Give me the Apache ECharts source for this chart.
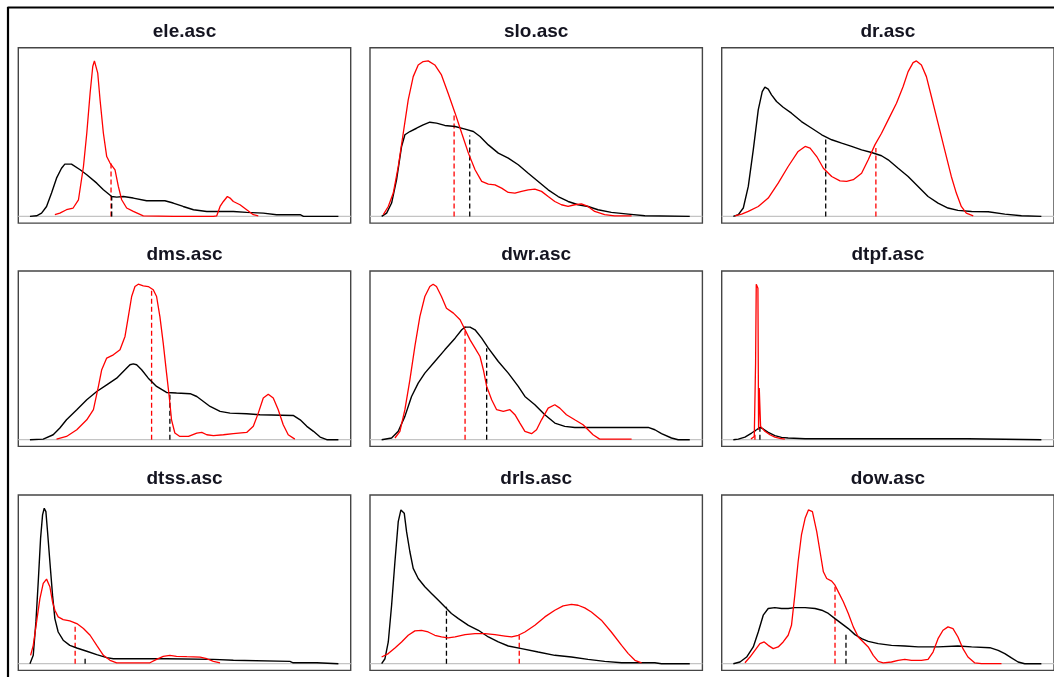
<!DOCTYPE html>
<html>
<head>
<meta charset="utf-8">
<script src="https://cdn.jsdelivr.net/npm/echarts@6/dist/echarts.min.js"></script>
<style>
html,body{margin:0;padding:0;background:#fff;}
#chart{width:1054px;height:677px;}
</style>
</head>
<body>
<div id="chart"></div>
<script>
// ---- panel titles ----
const panelTitles = ['ele.asc','slo.asc','dr.asc','dms.asc','dwr.asc','dtpf.asc','dtss.asc','drls.asc','dow.asc'];

// ---- density curves [x, density] (x in 0..100 plot units, density scaled so max = 1) ----
const eleBlack = [[3.5,0],[5.5,.004],[7,.021],[8.5,.064],[10,.15],[11.5,.246],[13,.31],[14,.336],[16,.336],[18.6,.3],[20.6,.268],[23.6,.214],[25.6,.171],[28.1,.128],[29.6,.124],[31.6,.128],[34.6,.118],[38.6,.101],[44.1,.101],[46.6,.086],[49.6,.064],[52.7,.043],[56.7,.032],[64.7,.032],[68.7,.026],[73.7,.021],[77.7,.011],[84.8,.011],[85.8,0],[96.3,0]];
const eleRed = [[11,.011],[12.5,.021],[14.5,.043],[16.5,.054],[18.1,.107],[19.6,.321],[20.6,.535],[21.6,.792],[22.4,.964],[22.9,1],[23.4,.996],[23.9,.921],[24.6,.749],[25.6,.535],[26.6,.385],[27.6,.343],[29.1,.3],[30.1,.193],[31.1,.107],[32.6,.054],[34.6,.032],[37.6,.004],[46.6,0],[58.7,0],[59.7,.004],[60.7,.064],[61.7,.096],[62.9,.128],[63.7,.118],[64.7,.096],[66.7,.075],[68.7,.043],[70.7,.011],[72.2,.004]];

const sloBlack = [[3.5,0],[5,.021],[6.5,.086],[8,.236],[9.5,.45],[10.5,.525],[12,.546],[14,.567],[16,.589],[18,.606],[20,.6],[22.5,.585],[25.6,.578],[28.6,.561],[31.1,.546],[33.1,.514],[35.6,.46],[38.6,.407],[41.6,.375],[44.6,.332],[47.6,.278],[50.6,.225],[53.6,.171],[56.6,.128],[59.6,.096],[62.6,.075],[65.6,.064],[68.6,.043],[72.6,.026],[77.7,.015],[82.7,.004],[96.2,0]];
const sloRed = [[4,.011],[5.5,.064],[7,.15],[8.5,.321],[10,.535],[11.5,.749],[13,.899],[14.5,.974],[16,.996],[17.5,1],[19.5,.974],[21.5,.91],[23.5,.792],[25.6,.664],[27.6,.535],[29.6,.407],[31.6,.3],[33.6,.225],[35.6,.208],[37.6,.203],[39.6,.182],[41.6,.154],[43.6,.15],[45.6,.161],[47.6,.171],[49.6,.176],[51.6,.161],[53.6,.128],[55.6,.096],[57.6,.075],[59.6,.064],[61.6,.075],[63.6,.081],[65.6,.064],[67.6,.032],[70.6,.011],[73.6,.004],[78.7,.004]];

const drBlack = [[3.5,0],[5,.011],[6.5,.054],[8,.193],[9.5,.428],[11,.685],[12.2,.803],[13,.831],[14,.818],[15,.782],[16.5,.739],[18.5,.702],[21,.664],[24,.61],[27.1,.567],[30.1,.525],[33.1,.493],[36.1,.471],[39.1,.45],[42.1,.428],[45.1,.411],[48.1,.39],[50.1,.364],[53.1,.31],[56.1,.257],[59.1,.193],[62.1,.128],[65.1,.086],[68.1,.054],[71.1,.039],[75.2,.032],[80.2,.03],[85.2,.015],[90.2,.004],[96.2,0]];
const drRed = [[4,.004],[6,.015],[8,.032],[11,.064],[14,.118],[17,.214],[20,.321],[23,.418],[25.1,.45],[26.6,.439],[28.6,.385],[30.6,.31],[33.1,.257],[35.6,.229],[37.6,.225],[39.6,.236],[42.1,.278],[44.1,.364],[46.1,.46],[48.1,.535],[50.1,.621],[52.6,.728],[54.6,.835],[56.1,.931],[57.6,.989],[58.6,1],[60.1,.974],[61.6,.899],[63.1,.771],[65.1,.6],[67.1,.428],[69.1,.257],[70.6,.15],[72.1,.064],[73.6,.021],[75.7,.004]];

const dmsBlack = [[3.5,0],[7.5,.004],[10.5,.032],[12.5,.075],[14.5,.128],[17.6,.193],[20.6,.257],[23.6,.31],[26.6,.353],[29.6,.396],[32.1,.45],[33.6,.482],[34.6,.488],[35.6,.482],[37.1,.45],[39.1,.396],[41.6,.343],[44.6,.304],[47.6,.3],[51.7,.296],[53.7,.278],[55.7,.246],[57.7,.214],[60.7,.182],[63.7,.171],[68.7,.167],[72.7,.161],[82.7,.156],[84.8,.128],[86.8,.086],[88.8,.054],[90.8,.017],[92.8,0],[96.3,0]];
const dmsRed = [[11.5,.004],[14.5,.021],[17.6,.064],[20.6,.128],[22.6,.193],[24.1,.343],[25.1,.45],[26.6,.525],[28.6,.546],[30.6,.578],[32.1,.664],[33.1,.792],[34.1,.921],[35.1,.985],[36.1,1],[37.6,.989],[39.1,.985],[40.6,.964],[41.6,.921],[42.6,.792],[43.6,.621],[44.6,.428],[45.4,.278],[46.1,.128],[47.1,.043],[48.6,.021],[51.2,.021],[53.7,.043],[55.2,.047],[56.7,.032],[58.7,.026],[61.7,.032],[64.7,.039],[68.7,.047],[70.7,.086],[72.2,.171],[73.7,.268],[75.2,.293],[76.7,.268],[78.2,.193],[79.7,.096],[81.2,.032],[83.2,.004]];

const dwrBlack = [[3.5,0],[6.5,.011],[8.5,.054],[10.5,.15],[12.5,.278],[14.5,.364],[16.5,.428],[19.5,.503],[22.5,.578],[25.6,.653],[27.6,.707],[28.6,.724],[30.1,.724],[31.6,.707],[33.6,.653],[35.6,.589],[38.6,.503],[41.6,.428],[44.6,.343],[46.6,.278],[49.6,.225],[52.6,.161],[55.6,.107],[58.6,.086],[61.6,.079],[83.7,.079],[85.7,.064],[87.7,.039],[90.7,.011],[92.7,0],[96.2,0]];
const dwrRed = [[7.5,.011],[9,.054],[10.5,.193],[12,.385],[13.5,.6],[15,.792],[16.5,.921],[18,.985],[19,1],[20,.985],[21.5,.921],[23,.846],[25.1,.814],[27.1,.771],[28.6,.707],[30.1,.642],[31.6,.589],[33.1,.535],[34.1,.45],[35.1,.343],[36.6,.257],[38.1,.193],[40.1,.182],[42.1,.193],[43.6,.161],[45.1,.107],[46.6,.054],[48.6,.039],[50.1,.064],[51.6,.128],[53.6,.203],[55.6,.225],[57.1,.203],[59.1,.161],[61.6,.128],[64.1,.096],[65.6,.064],[67.1,.032],[69.1,.004],[78.7,.004]];

const dtpfBlack = [[3.5,0],[5,.004],[7,.017],[9,.043],[10.5,.064],[11.5,.079],[12.5,.069],[14,.047],[16,.026],[18,.015],[20,.011],[25.1,.006],[74.1,.006],[74.6,0],[96.2,0]];
const dtpfRed = [[8.8,.004],[9.8,.021],[10.2,.493],[10.4,1],[10.7,.996],[10.9,.974],[11.1,.064],[11.3,.332],[11.5,.321],[11.7,.086],[12.2,.075],[13,.054],[14.5,.032],[16,.017],[17.5,.009],[19,.004]];

const dtssBlack = [[3.5,0],[4.5,.054],[5.3,.269],[6,.527],[6.7,.806],[7.3,.957],[7.8,1],[8.3,.978],[8.8,.849],[9.5,.656],[10.3,.441],[11,.29],[12,.204],[13.5,.151],[15.5,.118],[17.6,.101],[20.6,.08],[23.6,.058],[26.6,.039],[28.6,.032],[44.6,.032],[58.7,.028],[64.7,.022],[81.7,.015],[82.7,.006],[89.8,.006],[90.3,0],[96.3,0]];
const dtssRed = [[3.7,.054],[4.5,.118],[5.5,.269],[6.5,.419],[7.5,.516],[8.5,.544],[9.5,.495],[10.3,.398],[11,.344],[12,.301],[13.5,.284],[15.5,.275],[17.6,.258],[19.6,.226],[21.6,.183],[23.6,.118],[25.6,.054],[27.6,.022],[29.6,.006],[39.6,.006],[41.6,.028],[43.6,.047],[45.6,.054],[47.6,.047],[50.7,.045],[54.7,.043],[56.7,.032],[58.7,.015],[60.7,.006]];

const drlsBlack = [[3.5,0],[4.5,.032],[5.5,.14],[6.5,.376],[7.5,.656],[8.5,.914],[9.3,.989],[9.8,1],[10.3,.968],[11,.849],[12,.72],[13,.613],[14.5,.548],[16.5,.495],[18.5,.452],[20.5,.409],[22.5,.366],[24.5,.323],[26.6,.29],[29.6,.247],[32.6,.215],[35.6,.172],[38.6,.14],[41.6,.114],[45.6,.097],[50.6,.075],[55.6,.054],[60.6,.043],[65.6,.028],[70.6,.015],[75.7,.006],[85.7,.006],[87.7,0],[96.2,0]];
const drlsRed = [[3.5,.043],[5.5,.065],[7.5,.101],[9.5,.14],[11.5,.183],[13.5,.211],[15.5,.215],[17.5,.204],[19.5,.183],[21.5,.172],[23.5,.166],[25.6,.172],[28.6,.187],[31.6,.194],[34.6,.194],[37.6,.187],[40.6,.178],[42.6,.172],[44.6,.183],[46.6,.204],[49.6,.247],[52.6,.301],[55.6,.344],[58.1,.372],[60.6,.381],[62.6,.376],[64.6,.359],[66.6,.333],[69.6,.28],[72.6,.204],[75.7,.118],[77.7,.065],[79.7,.022],[81.7,.006]];

const dowBlack = [[3.5,0],[5.5,.011],[7.5,.043],[9.5,.108],[11,.204],[12.5,.312],[14,.355],[16,.361],[18,.355],[20,.355],[22,.361],[25.1,.361],[28.1,.355],[30.1,.344],[32.1,.323],[34.1,.29],[36.1,.258],[38.1,.226],[40.1,.187],[42.1,.161],[44.1,.144],[47.1,.129],[51.1,.118],[55.1,.114],[59.1,.108],[65.1,.108],[71.1,.114],[75.2,.108],[80.7,.103],[83.2,.086],[85.2,.065],[87.2,.037],[89.2,.011],[91.2,0],[96.2,0]];
const dowRed = [[7,.006],[8.5,.043],[10,.086],[11.5,.129],[12.8,.14],[14,.118],[15.5,.097],[17,.108],[18.5,.14],[20,.183],[21,.247],[22,.441],[23,.656],[24,.828],[25.1,.935],[26.1,.989],[26.6,1],[27.3,.978],[28.6,.849],[29.6,.72],[30.6,.591],[31.6,.548],[33.1,.531],[34.1,.505],[35.1,.462],[36.6,.398],[38.1,.323],[39.6,.237],[41.1,.172],[42.6,.14],[44.1,.108],[45.6,.054],[47.1,.015],[48.6,.006],[51.1,.011],[53.1,.022],[55.1,.028],[57.1,.022],[60.1,.022],[62.1,.028],[63.6,.075],[65.1,.161],[66.6,.215],[68.1,.237],[69.6,.226],[71.1,.172],[72.6,.097],[74.1,.043],[76.1,.006],[78.2,0],[84.2,0]];

// ---- medians [x, density at median] per panel ----
const medianBlack = [[28.1,.128],[30.0,.52],[31.3,.503],[45.6,.30],[35.1,.589],[11.5,.075],[20.1,.037],[23.0,.366],[37.4,.204]];
const medianRed   = [[27.9,.34],[25.3,.65],[46.4,.44],[40.1,.964],[28.6,.728],[10.0,.06],[17.1,.258],[44.9,.183],[34.1,.505]];

const blackCurves = [eleBlack,sloBlack,drBlack,dmsBlack,dwrBlack,dtpfBlack,dtssBlack,drlsBlack,dowBlack];
const redCurves   = [eleRed,sloRed,drRed,dmsRed,dwrRed,dtpfRed,dtssRed,drlsRed,dowRed];

// ---- layout ----
const colLefts = [18.3, 370, 721.7];
const rowTops = [47.7, 271, 495];
const boxW = 332.4, boxH = 175.4;
const titleTops = [22, 245.5, 469];

const chart = echarts.init(document.getElementById('chart'), null, {renderer:'canvas'});
const grids=[], xAxes=[], yAxes=[], titles=[], series=[];
for (let i=0;i<9;i++){
  const r=Math.floor(i/3), c=i%3;
  grids.push({left:colLefts[c], top:rowTops[r], width:boxW, height:boxH, show:true,
    borderColor:'#454545', borderWidth:1.4, backgroundColor:'transparent', containLabel:false});
  xAxes.push({type:'value', gridIndex:i, min:0, max:100, show:false});
  yAxes.push({type:'value', gridIndex:i, min:-0.043, max:1.085, show:false});
  titles.push({text:panelTitles[i], left:colLefts[c]+boxW/2, top:titleTops[r], textAlign:'center', padding:0,
    textStyle:{fontFamily:'Liberation Sans, Arial, sans-serif', fontWeight:'bold', fontSize:19, color:'#141420'}});
  const common = {type:'line', xAxisIndex:i, yAxisIndex:i, showSymbol:false, symbol:'none', silent:true, animation:false};
  series.push(Object.assign({}, common, {data:[[0,0],[100,0]], lineStyle:{color:'#c4c4c4', width:1.3}, z:1}));
  series.push(Object.assign({}, common, {data:[[medianRed[i][0],0],[medianRed[i][0],medianRed[i][1]]], lineStyle:{color:'#ff0000', width:1.3, type:[5,3]}, z:2}));
  series.push(Object.assign({}, common, {data:[[medianBlack[i][0],0],[medianBlack[i][0],medianBlack[i][1]]], lineStyle:{color:'#000', width:1.3, type:[5,3]}, z:3}));
  series.push(Object.assign({}, common, {data:blackCurves[i], lineStyle:{color:'#000', width:1.4}, z:4}));
  series.push(Object.assign({}, common, {data:redCurves[i], lineStyle:{color:'#ff0000', width:1.3}, z:5}));
}

chart.setOption({
  animation:false,
  backgroundColor:'#ffffff',
  title:titles,
  grid:grids, xAxis:xAxes, yAxis:yAxes, series:series,
  graphic:[
    {type:'line', shape:{x1:7.5, y1:7.5, x2:1060, y2:7.5}, style:{stroke:'#000', lineWidth:2.2}, silent:true},
    {type:'line', shape:{x1:8, y1:7, x2:8, y2:690}, style:{stroke:'#000', lineWidth:2.2}, silent:true}
  ]
});
</script>
</body>
</html>
